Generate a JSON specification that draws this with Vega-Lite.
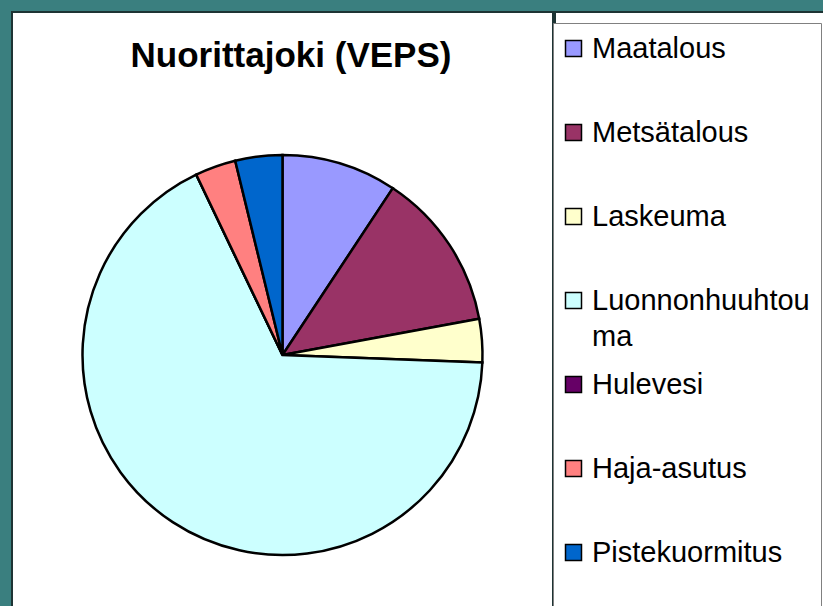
{
  "$schema": "https://vega.github.io/schema/vega-lite/v6.json",
  "padding": {"left": 11, "top": 11, "right": 0, "bottom": 0},
  "background": "#3a7f7f",
  "spacing": 0,
  "title": {
    "text": "Nuorittajoki (VEPS)",
    "orient": "top",
    "anchor": "middle",
    "offset": -63,
    "dx": -128,
    "font": "Liberation Sans",
    "fontSize": 35,
    "fontWeight": "bold",
    "color": "black"
  },
  "hconcat": [
    {
      "width": 541,
      "height": 686,
      "view": {"fill": "white", "stroke": "#1d3434", "strokeWidth": 2},
      "data": {
        "values": [
          {"nro": 1, "lahde": "Maatalous", "osuus": 9.3},
          {"nro": 2, "lahde": "Metsätalous", "osuus": 12.8},
          {"nro": 3, "lahde": "Laskeuma", "osuus": 3.5},
          {"nro": 4, "lahde": "Luonnonhuuhtouma", "osuus": 67.3},
          {"nro": 5, "lahde": "Hulevesi", "osuus": 0},
          {"nro": 6, "lahde": "Haja-asutus", "osuus": 3.3},
          {"nro": 7, "lahde": "Pistekuormitus", "osuus": 3.8}
        ]
      },
      "mark": {"type": "arc", "radius": 200, "stroke": "black", "strokeWidth": 2.5},
      "encoding": {
        "theta": {"field": "osuus", "type": "quantitative", "stack": true},
        "order": {"field": "nro", "type": "quantitative"},
        "color": {
          "field": "lahde",
          "type": "nominal",
          "scale": {
            "domain": ["Maatalous", "Metsätalous", "Laskeuma", "Luonnonhuuhtouma", "Hulevesi", "Haja-asutus", "Pistekuormitus"],
            "range": ["#9999FF", "#993366", "#FFFFCC", "#CCFFFF", "#660066", "#FF8080", "#0066CC"]
          },
          "legend": {
            "title": null,
            "orient": "none",
            "legendX": 541,
            "legendY": 11,
            "strokeColor": "#808080",
            "fillColor": "white",
            "padding": 11,
            "symbolType": "square",
            "symbolSize": 256,
            "symbolOffset": -5,
            "symbolStrokeColor": "black",
            "symbolStrokeWidth": 1.5,
            "symbolOpacity": 1,
            "labelFont": "Liberation Sans",
            "labelFontSize": 29,
            "labelColor": "black",
            "labelOffset": 4,
            "labelLimit": 400,
            "rowPadding": 18,
            "gridAlign": "each",
            "labelExpr": "datum.label == 'Luonnonhuuhtouma' ? ['Luonnonhuuhtou', 'ma'] : datum.label == 'Pistekuormitus' ? ['Pistekuormitus', '', ''] : [datum.label, '']"
          }
        }
      }
    },
    {
      "width": 271,
      "height": 686,
      "view": {"fill": "white", "stroke": "#1d3434", "strokeWidth": 2},
      "data": {"values": []},
      "mark": {"type": "point"},
      "encoding": {}
    }
  ],
  "config": {
    "style": {"guide-label": {"lineHeight": 36}}
  }
}
